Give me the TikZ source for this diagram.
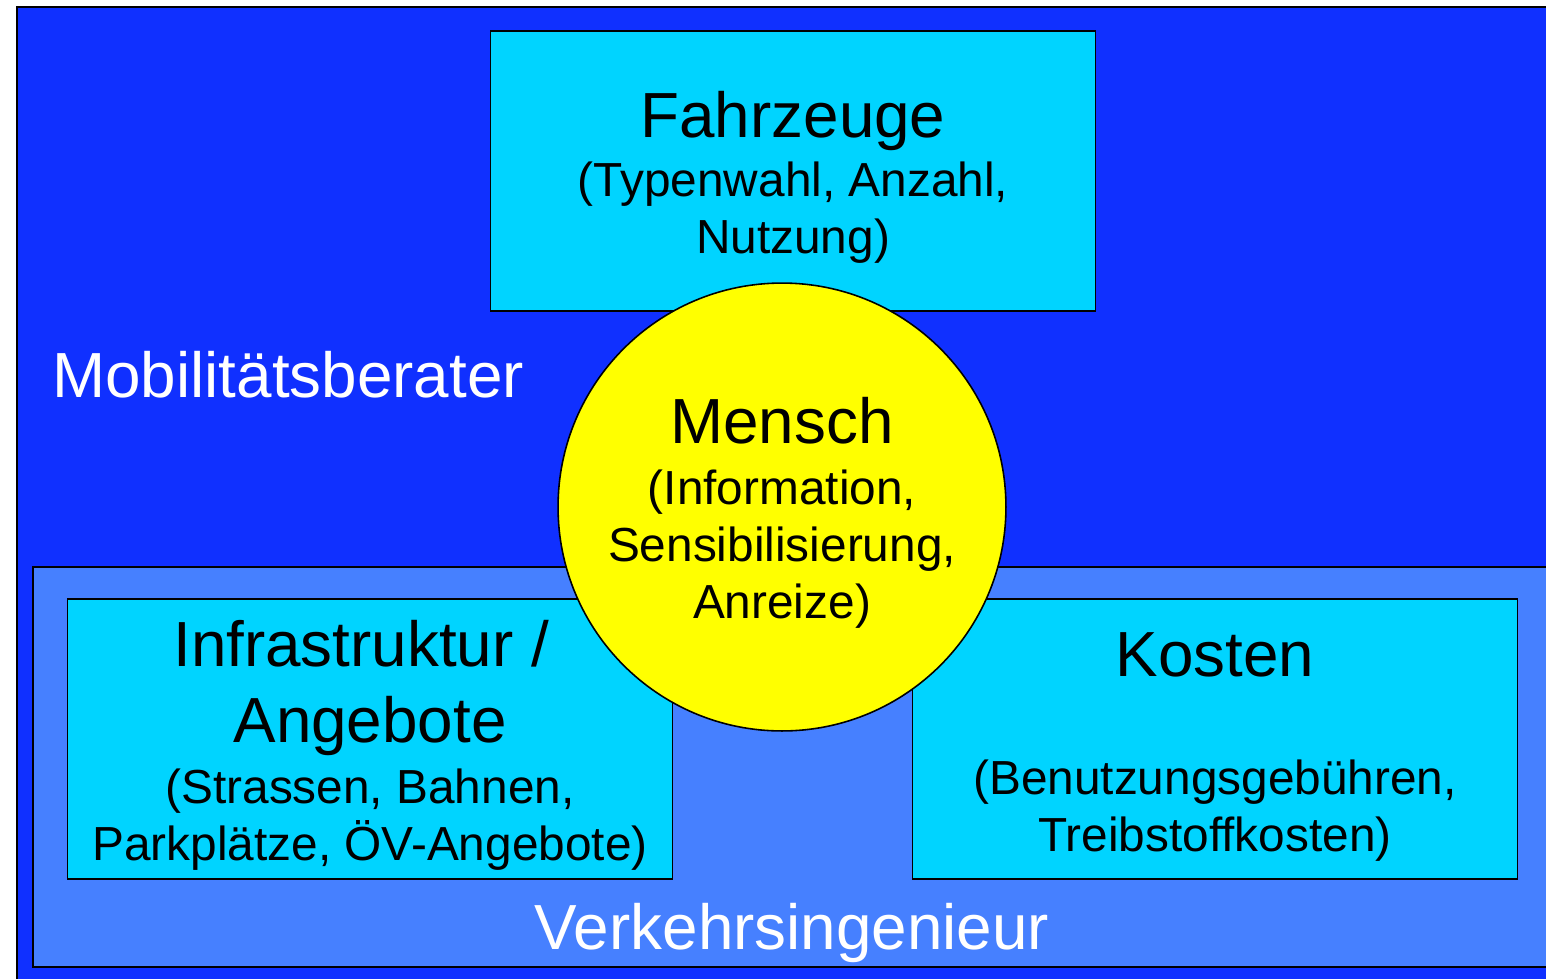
\documentclass[tikz,border=0pt]{standalone}
\usepackage{fontspec}
\setmainfont{Liberation Sans}
\usepackage{tikz}

\definecolor{outerblue}{RGB}{16,48,255}
\definecolor{innerblue}{RGB}{70,128,255}
\definecolor{boxcyan}{RGB}{0,212,255}
\definecolor{circyellow}{RGB}{255,255,0}

\newcommand{\bigtxt}{\fontsize{36.3}{43}\selectfont}
\newcommand{\smalltxt}{\fontsize{27.2}{32.5}\selectfont}

\tikzset{
    areabox/.style={draw=black, line width=1.1pt},
    topicbox/.style={draw=black, line width=0.9pt, fill=boxcyan,
        minimum width=12.1cm, minimum height=5.6cm, inner sep=0pt},
    topictext/.style={align=center, font=\smalltxt, inner sep=0pt},
    rolelabel/.style={text=white, font=\bigtxt, inner sep=0pt}
}

\begin{document}
\begin{tikzpicture}[x=0.02cm, y=-0.02cm]
            \useasboundingbox (0,0) rectangle (1546,978);
            \clip (0,0) rectangle (1546,978);

            % background areas
            \coordinate (OA) at (17,7);
            \coordinate (OB) at (1570,1000);
            \coordinate (IA) at (33,567);
            \coordinate (IB) at (1570,967);
            \draw[areabox, fill=outerblue] (OA) rectangle (OB);
            \draw[areabox, fill=innerblue] (IA) rectangle (IB);

            % the three topics
            \node[topicbox] (fahrzeuge) at (793,171) {};
            \node[topicbox] (infra) at (370,739) {};
            \node[topicbox] (kosten) at (1215,739) {};
            \node[topictext] (fahrzeugetxt) at ([yshift=-0.12cm]fahrzeuge.center)
                {\bigtxt Fahrzeuge\\[1pt](Typenwahl, Anzahl,\\Nutzung)};
            \node[topictext] (infratxt) at ([yshift=-0.12cm]infra.center)
                {\bigtxt Infrastruktur /\kern0.278em\\[11pt]\bigtxt Angebote\\[2pt](Strassen, Bahnen,\\Parkplätze, ÖV-Angebote)};
            \node[topictext] (kostentxt) at ([yshift=-0.16cm]kosten.center)
                {\bigtxt Kosten\\[35pt](Benutzungsgebühren,\\Treibstoffkosten)};

            % person in the middle
            \node[circle, draw=black, line width=0.9pt, fill=circyellow, minimum size=8.96cm,
                inner sep=0pt] (mensch) at (782,507) {};
            \node[topictext] (menschtxt) at ([yshift=-0.12cm]mensch.center)
                {\bigtxt Mensch\\[2pt](Information,\\Sensibilisierung,\\Anreize)};

            % roles
            \node[rolelabel, anchor=west] (berater) at (52,375) {Mobilitätsberater};
            \node[rolelabel] (ingenieur) at (792,933) {Verkehrsingenieur};
        \end{tikzpicture}
\end{document}
